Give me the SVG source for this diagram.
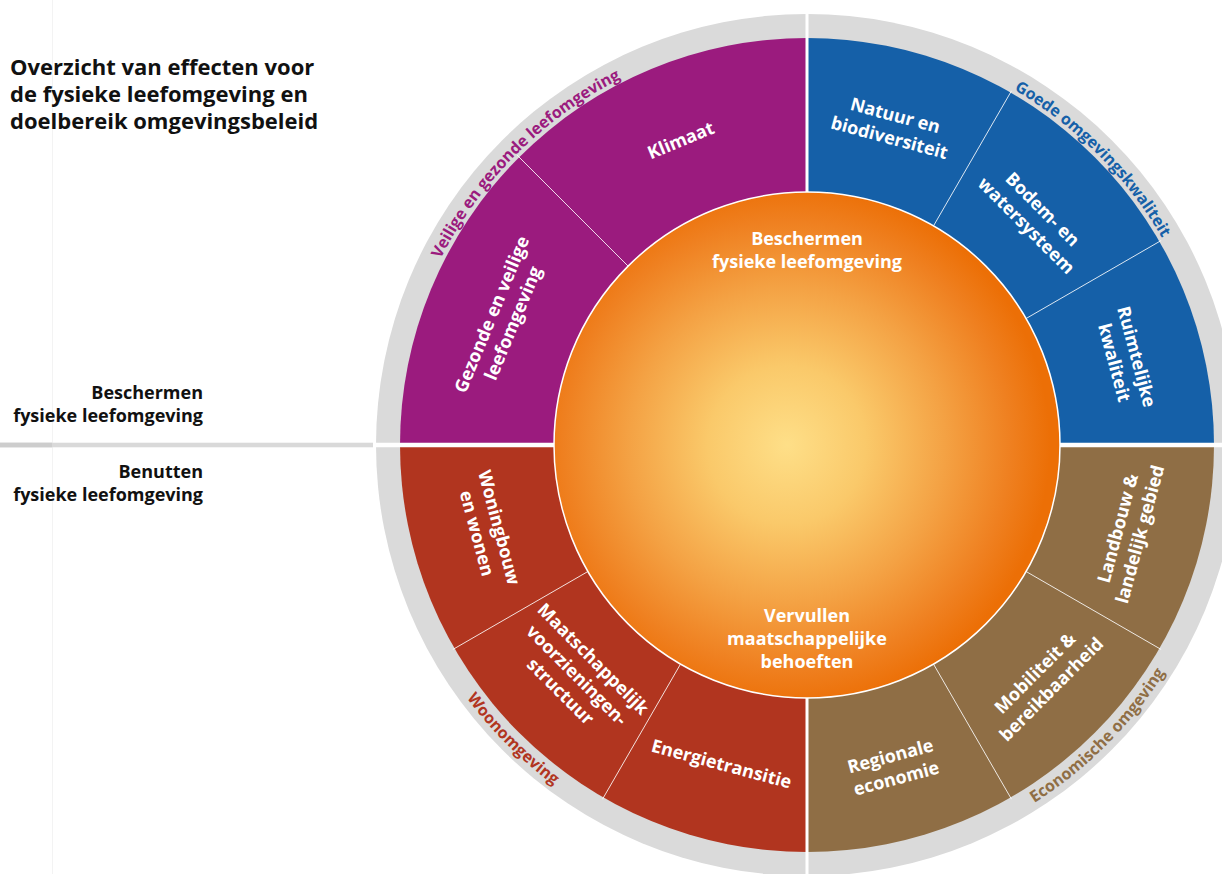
<svg xmlns="http://www.w3.org/2000/svg" width="1222" height="874" viewBox="0 0 1222 874">
<style>
  .title { font-family: "Open Sans", "Noto Sans", sans-serif; font-weight: 700; font-size: 22px; fill: #111; }
  .side { font-family: "Open Sans", "Noto Sans", sans-serif; font-weight: 700; font-size: 18px; fill: #111; text-anchor: end; }
  .seg { font-family: "Open Sans", "Noto Sans", sans-serif; font-weight: 700; font-size: 18px; fill: #fff; text-anchor: middle; }
  .ring { font-family: "Open Sans", "Noto Sans", sans-serif; font-weight: 700; font-size: 16px; text-anchor: middle; }
  .div { stroke: #fff; stroke-width: 1; opacity: 0.85; }
</style>
<defs>
  <radialGradient id="sun" cx="0.46" cy="0.5" r="0.52">
    <stop offset="0" stop-color="#FEDF88"/>
    <stop offset="0.3" stop-color="#FAC96A"/>
    <stop offset="0.6" stop-color="#F4A244"/>
    <stop offset="0.85" stop-color="#EF8020"/>
    <stop offset="1" stop-color="#EC6F06"/>
  </radialGradient>
  <path id="arcTL" d="M396,445 A411,411 0 0 1 807,34"/>
  <path id="arcTR" d="M807,34 A411,411 0 0 1 1218,445"/>
  <path id="arcBR" d="M807,869 A424,424 0 0 0 1231,445"/>
  <path id="arcBL" d="M383,445 A424,424 0 0 0 807,869"/>
</defs>

<rect width="1222" height="874" fill="#fff"/>
<line x1="52.5" y1="0" x2="52.5" y2="874" stroke="#f3f3f3" stroke-width="1"/>

<g id="title">
  <text class="title" x="10" y="74.5">Overzicht van effecten voor</text>
  <text class="title" x="10" y="101.7">de fysieke leefomgeving en</text>
  <text class="title" x="10" y="129">doelbereik omgevingsbeleid</text>
</g>

<g id="side-labels">
  <rect x="0" y="442.7" width="373" height="4.6" fill="#D9D9D9"/>
  <rect x="0" y="442.7" width="52" height="4.6" fill="#CDCDCD"/>
  <text class="side" x="203" y="399">Beschermen</text>
  <text class="side" x="203" y="422">fysieke leefomgeving</text>
  <text class="side" x="203" y="478">Benutten</text>
  <text class="side" x="203" y="501">fysieke leefomgeving</text>
</g>

<g id="outer-ring">
  <circle cx="807" cy="445" r="431" fill="#DADADA"/>
</g>

<g id="quadrant-veilig">
  <path d="M807,445 L400,445 A407,407 0 0 1 807,38 Z" fill="#9B1B7E"/>
</g>
<g id="quadrant-goede">
  <path d="M807,445 L807,38 A407,407 0 0 1 1214,445 Z" fill="#1560A8"/>
</g>
<g id="quadrant-economisch">
  <path d="M807,445 L1214,445 A407,407 0 0 1 807,852 Z" fill="#8F6E45"/>
</g>
<g id="quadrant-woon">
  <path d="M807,445 L807,852 A407,407 0 0 1 400,445 Z" fill="#B1351F"/>
</g>

<g id="gaps">
  <line x1="807" y1="0" x2="807" y2="874" stroke="#fff" stroke-width="3"/>
  <line x1="376" y1="445" x2="1222" y2="445" stroke="#fff" stroke-width="4.6"/>
</g>

<g id="connectors">
  <line class="div" x1="628.1" y1="266.1" x2="517" y2="155"/>
  <line class="div" x1="933.5" y1="225.9" x2="1011.5" y2="90.8"/>
  <line class="div" x1="1026.1" y1="318.5" x2="1161.2" y2="240.5"/>
  <line class="div" x1="1026.1" y1="571.5" x2="1161.2" y2="649.5"/>
  <line class="div" x1="933.5" y1="664.1" x2="1011.5" y2="799.2"/>
  <line class="div" x1="680.5" y1="664.1" x2="602.5" y2="799.2"/>
  <line class="div" x1="587.9" y1="571.5" x2="452.8" y2="649.5"/>
</g>

<g id="center">
  <circle cx="807" cy="445" r="253" fill="url(#sun)" stroke="#fff" stroke-width="1.5"/>
  <text class="seg" x="807" y="245">Beschermen</text>
  <text class="seg" x="807" y="268">fysieke leefomgeving</text>
  <text class="seg" x="807" y="621.7">Vervullen</text>
  <text class="seg" x="807" y="644.5">maatschappelijke</text>
  <text class="seg" x="807" y="667.5">behoeften</text>
</g>

<g id="seg-klimaat" transform="translate(680.7,140.1) rotate(-22.5)">
  <text class="seg" x="0" y="6.5">Klimaat</text>
</g>
<g id="seg-gezonde" transform="translate(502.1,318.7) rotate(-67.5)">
  <text class="seg"><tspan x="0" y="-5">Gezonde en veilige</tspan><tspan x="0" y="18">leefomgeving</tspan></text>
</g>
<g id="seg-natuur" transform="translate(892.4,126.3) rotate(15)">
  <text class="seg"><tspan x="0" y="-5">Natuur en</tspan><tspan x="0" y="18">biodiversiteit</tspan></text>
</g>
<g id="seg-bodem" transform="translate(1034.7,217.3) rotate(45)">
  <text class="seg"><tspan x="0" y="-5">Bodem- en</tspan><tspan x="0" y="18">watersysteem</tspan></text>
</g>
<g id="seg-ruimtelijk" transform="translate(1125.7,359.6) rotate(75)">
  <text class="seg"><tspan x="0" y="-5">Ruimtelijke</tspan><tspan x="0" y="18">kwaliteit</tspan></text>
</g>
<g id="seg-landbouw" transform="translate(1128.6,531.2) rotate(-75)">
  <text class="seg"><tspan x="0" y="-5">Landbouw &amp;</tspan><tspan x="0" y="18">landelijk gebied</tspan></text>
</g>
<g id="seg-mobiliteit" transform="translate(1043,681) rotate(-45)">
  <text class="seg"><tspan x="0" y="-5">Mobiliteit &amp;</tspan><tspan x="0" y="18">bereikbaarheid</tspan></text>
</g>
<g id="seg-regionale" transform="translate(893.3,767) rotate(-15)">
  <text class="seg"><tspan x="0" y="-5">Regionale</tspan><tspan x="0" y="18">economie</tspan></text>
</g>
<g id="seg-energie" transform="translate(721.6,763.7) rotate(15)">
  <text class="seg" x="0" y="6.5">Energietransitie</text>
</g>
<g id="seg-maatschappelijk" transform="translate(577,675) rotate(45)">
  <text class="seg"><tspan x="0" y="-16.5">Maatschappelijk</tspan><tspan x="0" y="6.5">voorzieningen-</tspan><tspan x="0" y="29.5">structuur</tspan></text>
</g>
<g id="seg-woningbouw" transform="translate(488.3,530.4) rotate(75)">
  <text class="seg"><tspan x="0" y="-5">Woningbouw</tspan><tspan x="0" y="18">en wonen</tspan></text>
</g>

<g id="ring-labels">
  <text class="ring" fill="#9B1B7E"><textPath href="#arcTL" startOffset="50%">Veilige en gezonde leefomgeving</textPath></text>
  <text class="ring" fill="#1560A8"><textPath href="#arcTR" startOffset="50%">Goede omgevingskwaliteit</textPath></text>
  <text class="ring" fill="#8F6E45"><textPath href="#arcBR" startOffset="50%">Economische omgeving</textPath></text>
  <text class="ring" fill="#B1351F"><textPath href="#arcBL" startOffset="50%">Woonomgeving</textPath></text>
</g>
</svg>
